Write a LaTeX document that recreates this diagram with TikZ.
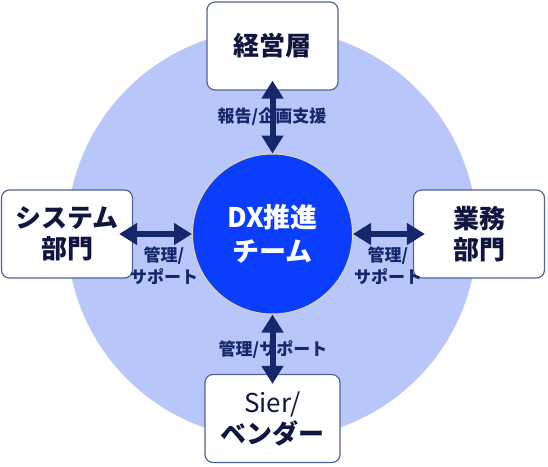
\documentclass[tikz,border=0pt]{standalone}
\usepackage{fontspec}
\newfontfamily\jp{Noto Sans CJK JP}
\usetikzlibrary{arrows.meta}

\definecolor{fieldblue}{RGB}{184,198,250}
\definecolor{coreblue}{RGB}{10,62,252}
\definecolor{navy}{RGB}{22,40,108}
\definecolor{boxedge}{RGB}{84,98,152}
\definecolor{ink}{RGB}{16,22,64}

\begin{document}
\begin{tikzpicture}[
  x=1pt, y=-1pt,
  box/.style={draw=boxedge, line width=1.2pt, fill=white, rounded corners=8pt,
    minimum width=131pt, minimum height=88pt, align=center, text=ink,
    font=\jp\bfseries\fontsize{26}{31}\selectfont},
  core/.style={circle, fill=coreblue, draw={rgb,255:red,226;green,214;blue,170}, line width=1pt,
    minimum size=160pt, align=center, text=white,
    font=\jp\bfseries\fontsize{27}{34}\selectfont},
  dbl/.style={{Triangle[width=21pt,length=18pt]}-{Triangle[width=21pt,length=18pt]},
    line width=6pt, draw=navy},
  lab/.style={align=center, text=navy, inner sep=1pt,
    font=\jp\bfseries\fontsize{17}{22}\selectfont}
]
\useasboundingbox (0,0) rectangle (548,466);

% ---------------- background disc ----------------
\fill[fieldblue] (272,234) circle[radius=205pt];

% ---------------- centre team ----------------
\node[core] (dx) at (272.5,234) {DX推進\\チーム};

% ---------------- partners ----------------
\node[box] (mgmt) at (272.5,46) {経営層};
\node[box] (sys) at (67,234) {システム\\部門};
\node[box] (biz) at (479,234) {業務\\部門};
\node[box, minimum width=135pt] (vendor) at (272.5,418.5) {{\mdseries Sier/}\\ベンダー};

% ---------------- links ----------------
\draw[dbl] ([yshift=10pt]mgmt.south) -- (dx.north);
\draw[dbl] ([xshift=-14pt]sys.east) -- (dx.west);
\draw[dbl] ([xshift=12pt]biz.west) -- (dx.east);
\draw[dbl] (dx.south) -- ([yshift=-10pt]vendor.north);

% labels
\node[lab] (labtop) at (272,117) {報告/企画支援};
\node[lab] (labsys) at (164,266) {管理/\\サポート};
\node[lab] (labbiz) at (388,266) {管理/\\サポート};
\node[lab] (labven) at (273,350) {管理/サポート};

\end{tikzpicture}
\end{document}
